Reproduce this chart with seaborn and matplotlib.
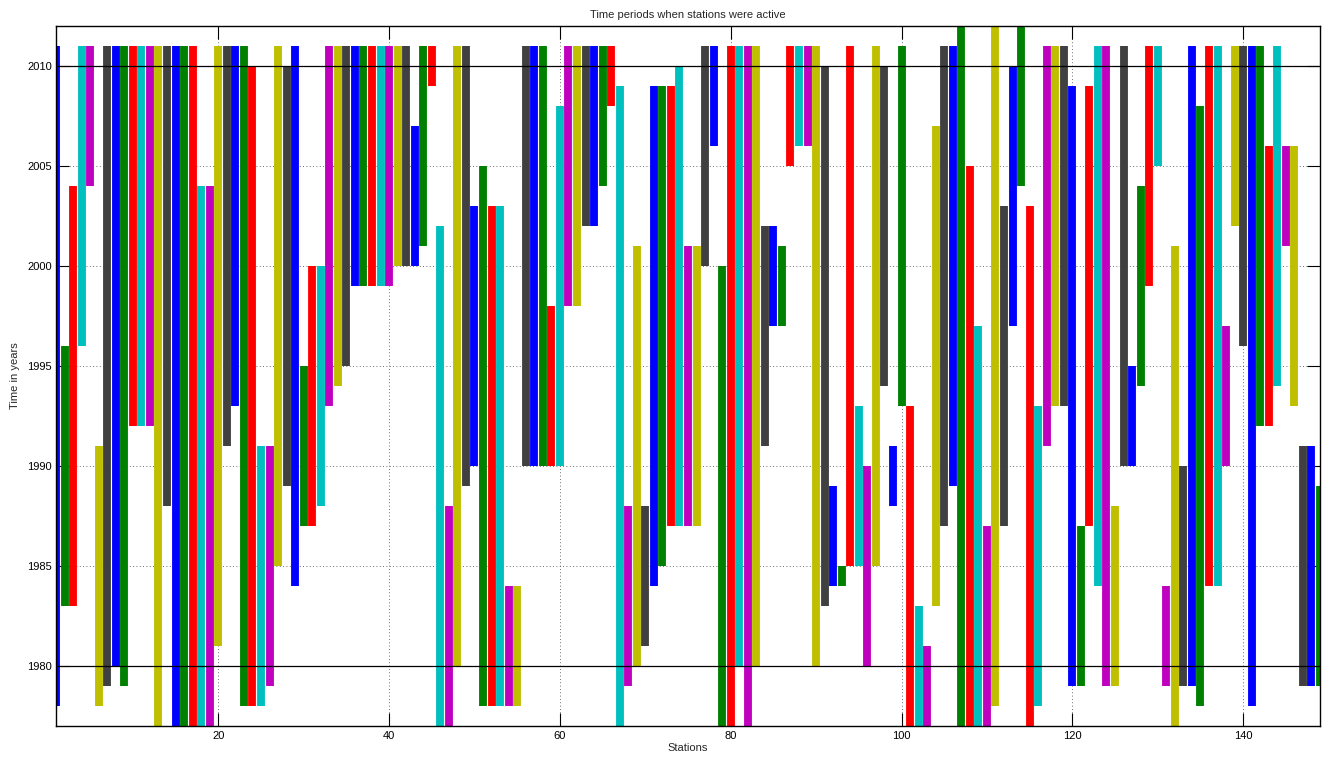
import numpy as np
import pandas as pd
import matplotlib
matplotlib.use("Agg")
import matplotlib.pyplot as plt
import seaborn as sns

# First and last year of operation for each station (stations numbered from 1)
start_year = [
    1978, 1983, 1983, 1996, 2004, 1978, 1979, 1980, 1979, 1992,
    1992, 1992, 1976, 1988, 1976, 1976, 1976, 1976, 1976, 1981,
    1991, 1993, 1978, 1978, 1978, 1979, 1985, 1989, 1984, 1987,
    1987, 1988, 1993, 1994, 1995, 1999, 1999, 1999, 1999, 1999,
    2000, 2000, 2000, 2001, 2009, 1976, 1976, 1980, 1989, 1990,
    1978, 1978, 1978, 1978, 1978, 1990, 1990, 1990, 1990, 1990,
    1998, 1998, 2002, 2002, 2004, 2008, 1976, 1979, 1980, 1981,
    1984, 1985, 1987, 1987, 1987, 1987, 2000, 2006, 1976, 1976,
    1980, 1976, 1980, 1991, 1997, 1997, 2005, 2006, 2006, 1980,
    1983, 1984, 1984, 1985, 1985, 1980, 1985, 1994, 1988, 1993,
    1976, 1976, 1976, 1983, 1987, 1989, 1976, 1976, 1976, 1976,
    1978, 1987, 1997, 2004, 1976, 1978, 1991, 1993, 1993, 1979,
    1979, 1987, 1984, 1979, 1979, 1990, 1990, 1994, 1999, 2005,
    1979, 1976, 1979, 1979, 1978, 1984, 1984, 1990, 2002, 1996,
    1978, 1992, 1992, 1994, 2001, 1993, 1979, 1979, 1979,
]
end_year = [
    2011, 1996, 2004, 2011, 2011, 1991, 2011, 2011, 2011, 2011,
    2011, 2011, 2011, 2011, 2011, 2011, 2011, 2004, 2004, 2011,
    2011, 2011, 2011, 2010, 1991, 1991, 2011, 2010, 2011, 1995,
    2000, 2000, 2011, 2011, 2011, 2011, 2011, 2011, 2011, 2011,
    2011, 2011, 2007, 2011, 2011, 2002, 1988, 2011, 2011, 2003,
    2005, 2003, 2003, 1984, 1984, 2011, 2011, 2011, 1998, 2008,
    2011, 2011, 2011, 2011, 2011, 2011, 2009, 1988, 2001, 1988,
    2009, 2009, 2009, 2010, 2001, 2001, 2011, 2011, 2000, 2011,
    2011, 2011, 2011, 2002, 2002, 2001, 2011, 2011, 2011, 2011,
    2010, 1989, 1985, 2011, 1993, 1990, 2011, 2010, 1991, 2011,
    1993, 1983, 1981, 2007, 2011, 2011, 2013, 2005, 1997, 1987,
    2013, 2003, 2010, 2013, 2003, 1993, 2011, 2011, 2011, 2009,
    1987, 2009, 2011, 2011, 1988, 2011, 1995, 2004, 2011, 2011,
    1984, 2001, 1990, 2011, 2008, 2011, 2011, 1997, 2011, 2011,
    2011, 2011, 2006, 2011, 2006, 2006, 1991, 1991, 1989,
]

# Colour order cycled over the stations
color_names = ["b", "g", "r", "c", "m", "y", "k"]
color_values = ["#0000ff", "#008000", "#ff0000", "#00bfbf",
                "#bf00bf", "#bfbf00", "#404040"]

# Reference period marked by horizontal lines
ref_years = [1980, 2010]

x_ticks = [20, 40, 60, 80, 100, 120, 140]
y_ticks = [1980, 1985, 1990, 1995, 2000, 2005, 2010]

station = np.arange(1, len(start_year) + 1)
group = [color_names[(s - 1) % len(color_names)] for s in station]
df = pd.DataFrame({
    "station": np.concatenate([station, station]),
    "year": np.concatenate([start_year, end_year]),
    "group": group + group,
})

sns.set_theme(style="white")
plt.rcParams["font.family"] = ["Liberation Sans", "DejaVu Sans"]
plt.rcParams["font.size"] = 8

W, H, DPI = 1322, 757, 100
fig = plt.figure(figsize=(W / DPI, H / DPI), dpi=DPI)
ax = fig.add_axes([56 / W, 1 - 725.7 / H, (1320 - 56) / W, (725.7 - 26) / H])

sns.lineplot(
    data=df, x="station", y="year", hue="group", units="station",
    estimator=None, sort=False, palette=color_values, hue_order=color_names,
    legend=False, linewidth=5.65, solid_capstyle="butt", ax=ax, zorder=2,
)

for yr in ref_years:
    ax.axhline(yr, color="black", linewidth=0.9, zorder=3)

ax.set_xlim(1, 149)
ax.set_ylim(1977, 2012)
ax.set_xticks(x_ticks)
ax.set_yticks(y_ticks)
ax.set_xticklabels([str(t) for t in x_ticks])
ax.set_yticklabels([str(t) for t in y_ticks])

ax.set_axisbelow(True)
ax.grid(True, linestyle=(0, (1, 3)), color="#404040", linewidth=0.6)

ax.tick_params(axis="both", which="major", direction="in", length=9.2,
               width=0.8, color="black", labelsize=8, labelcolor="black",
               top=True, right=True, bottom=True, left=True)
ax.tick_params(axis="x", pad=4)
ax.tick_params(axis="y", pad=3)

for sp in ax.spines.values():
    sp.set_visible(True)
    sp.set_color("black")
    sp.set_linewidth(1.0)

ax.set_title("Time periods when stations were active", fontsize=8, pad=6)
ax.set_xlabel("Stations", fontsize=8, labelpad=1)
ax.set_ylabel("Time in years", fontsize=8, labelpad=5)

fig.savefig("out.png", dpi=DPI)
